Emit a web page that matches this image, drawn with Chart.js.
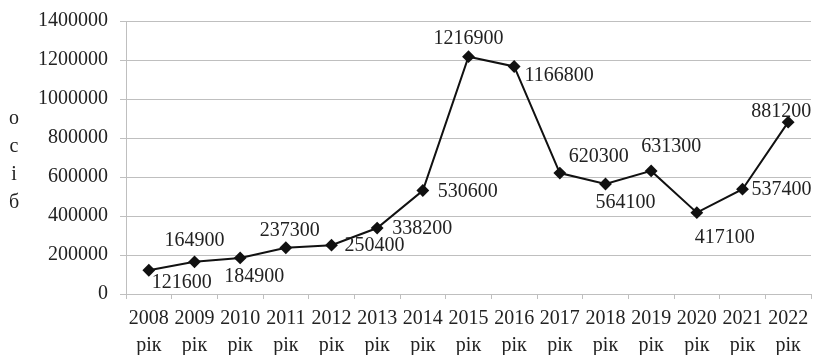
<!DOCTYPE html>
<html>
<head>
<meta charset="utf-8">
<script src="https://cdn.jsdelivr.net/npm/chart.js@4.4.1/dist/chart.umd.min.js"></script>
<style>
  html, body { margin: 0; padding: 0; background: #fff; }
  #wrap { width: 818px; height: 355px; position: relative; }
</style>
</head>
<body>
<div id="wrap"><canvas id="chart"></canvas></div>
<script>
const years = [2008, 2009, 2010, 2011, 2012, 2013, 2014, 2015, 2016, 2017, 2018, 2019, 2020, 2021, 2022];
const yearWord = "рік";
const persons = [121600, 164900, 184900, 237300, 250400, 338200, 530600, 1216900, 1166800, 620300, 564100, 631300, 417100, 537400, 881200];
const yMin = 0;
const yMax = 1400000;
const yStep = 200000;
const yTitleLetters = ["о", "с", "і", "б"];

// where each value label sits relative to its point (dx, dy)
const labelOffsets = [
    [33, 12], [0, -21], [14, 19], [4, -17], [43, 1], [45, 1], [45, 1], [0, -18],
    [45, 9], [39, -16], [20, 19], [20, -24], [28, 25], [39, 1], [-7, -10]
];

const serif = "'Liberation Serif', 'Times New Roman', serif";

const valueLabels = {
    id: "valueLabels",
    afterDatasetsDraw(chart) {
        const ctx = chart.ctx;
        const meta = chart.getDatasetMeta(0);
        ctx.save();
        ctx.font = "20px " + serif;
        ctx.fillStyle = "#222";
        ctx.textAlign = "center";
        ctx.textBaseline = "middle";
        meta.data.forEach((pt, i) => {
            const off = labelOffsets[i];
            ctx.fillText(String(persons[i]), pt.x + off[0], pt.y + off[1]);
        });
        ctx.restore();
    }
};

const stackedTitle = {
    id: "stackedTitle",
    afterDraw(chart) {
        const ctx = chart.ctx;
        ctx.save();
        ctx.font = "20px " + serif;
        ctx.fillStyle = "#222";
        ctx.textAlign = "center";
        ctx.textBaseline = "alphabetic";
        yTitleLetters.forEach((ch, i) => {
            ctx.fillText(ch, 14, 124 + i * 28);
        });
        ctx.restore();
    }
};

const ctx = document.getElementById("chart").getContext("2d");

new Chart(ctx, {
    type: "line",
    data: {
        labels: years.map(y => [String(y), yearWord]),
        datasets: [{
            label: "осіб",
            data: persons,
            borderColor: "#111",
            backgroundColor: "#111",
            borderWidth: 2,
            pointStyle: "rectRot",
            pointRadius: 5,
            pointHoverRadius: 5,
            tension: 0
        }]
    },
    options: {
        responsive: true,
        maintainAspectRatio: false,
        animation: false,
        layout: { padding: { top: 21, right: 2, left: 0, bottom: 0 } },
        plugins: {
            legend: { display: false },
            tooltip: { enabled: false }
        },
        scales: {
            x: {
                offset: true,
                grid: {
                    offset: true,
                    drawOnChartArea: false,
                    drawTicks: true,
                    tickLength: 5,
                    color: "#bfbfbf"
                },
                border: { color: "#bfbfbf" },
                ticks: {
                    font: { family: serif, size: 20, lineHeight: 1.35 },
                    color: "#222",
                    padding: 6,
                    maxRotation: 0,
                    autoSkip: false
                },
                afterFit(scale) { scale.height = 61; }
            },
            y: {
                min: yMin,
                max: yMax,
                ticks: {
                    stepSize: yStep,
                    font: { family: serif, size: 20 },
                    color: "#222",
                    padding: 12,
                    callback: v => String(v)
                },
                grid: {
                    color: "#bfbfbf",
                    tickLength: 6
                },
                border: { color: "#bfbfbf" },
                afterFit(scale) {
                    scale.width = 126;
                    scale.paddingTop = 10;
                    scale.paddingBottom = 0;
                }
            }
        }
    },
    plugins: [valueLabels, stackedTitle]
});
</script>
</body>
</html>
